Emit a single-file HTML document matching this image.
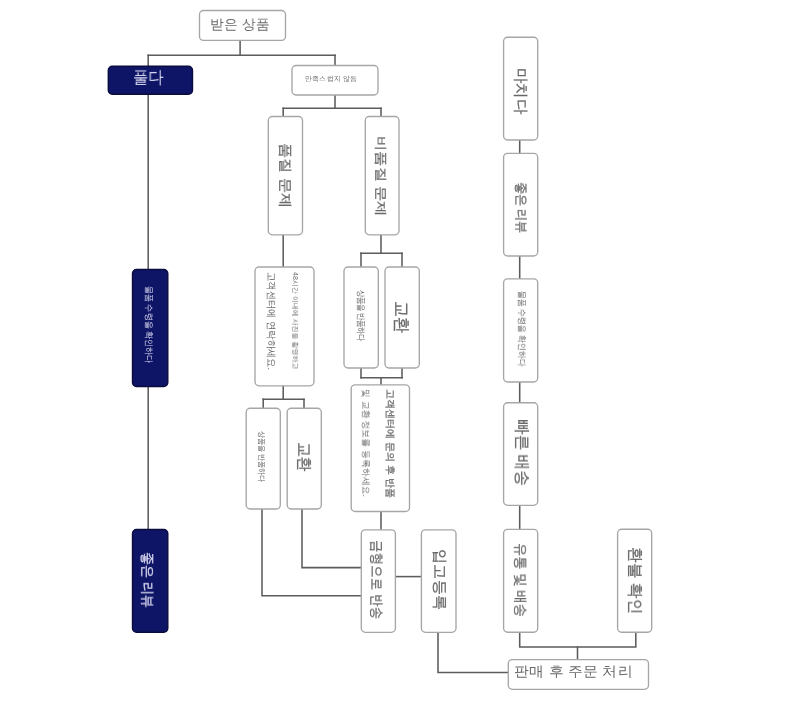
<!DOCTYPE html>
<html><head><meta charset="utf-8"><style>
html,body{margin:0;padding:0;background:#fff;}
body{width:790px;height:723px;position:relative;overflow:hidden;font-family:"Liberation Sans",sans-serif;}
#w{position:absolute;left:0;top:0;width:790px;height:723px;filter:blur(0.45px);}
svg{position:absolute;left:0;top:0;}
.t{position:absolute;white-space:nowrap;line-height:1;transform-origin:0 0;will-change:transform;-webkit-text-stroke:0.25px currentColor;}
.v{writing-mode:vertical-rl;text-orientation:sideways;}
.w{-webkit-text-stroke:0;}
</style></head><body><div id="w">
<svg width="790" height="723" viewBox="0 0 790 723">
<g fill="none" stroke="#5c5c5c" stroke-width="1.55" stroke-linecap="square">
<polyline points="240.1,40.4 240.1,55.2"/>
<polyline points="148.2,55.2 335,55.2"/>
<polyline points="148.2,55.2 148.2,66"/>
<polyline points="148.2,94.5 148.2,269"/>
<polyline points="148.2,386.5 148.2,529.5"/>
<polyline points="335,55.2 335,65.5"/>
<polyline points="335,95 335,108.2"/>
<polyline points="283.2,108.2 381,108.2"/>
<polyline points="283.2,108.2 283.2,116.5"/>
<polyline points="381,108.2 381,116.5"/>
<polyline points="283.2,234.8 283.2,267"/>
<polyline points="381,234.8 381,253.3"/>
<polyline points="361,253.3 402,253.3"/>
<polyline points="361,253.3 361,267"/>
<polyline points="402,253.3 402,267"/>
<polyline points="283.2,385.8 283.2,399.2"/>
<polyline points="263.2,399.2 304,399.2"/>
<polyline points="263.2,399.2 263.2,408.2"/>
<polyline points="304,399.2 304,408.2"/>
<polyline points="361,368 361,377.7"/>
<polyline points="402,368 402,377.7"/>
<polyline points="361,377.7 402,377.7"/>
<polyline points="381,377.7 381,384.8"/>
<polyline points="381,511.5 381,529.8"/>
<polyline points="262,509 262,595.7 361.3,595.7"/>
<polyline points="302,509 302,567.6 361.3,567.6"/>
<polyline points="395.4,576.6 421.4,576.6"/>
<polyline points="438,632.3 438,672.4 508.3,672.4"/>
<polyline points="519.7,140 519.7,153.3"/>
<polyline points="519.7,256 519.7,278.8"/>
<polyline points="519.7,382 519.7,402.7"/>
<polyline points="519.7,505.3 519.7,529.3"/>
<polyline points="519.7,632.2 519.7,647 635.8,647 635.8,632.2"/>
<polyline points="577.5,647 577.5,659.6"/>
</g>
<rect x="199.5" y="10.5" width="86" height="29.9" rx="4" fill="#fff" stroke="#a6a6a6" stroke-width="1.35"/>
<rect x="108.3" y="66.2" width="84.2" height="28.1" rx="4" fill="#0e1466" stroke="#090c3c" stroke-width="1.4"/>
<rect x="292" y="65.5" width="86" height="29.5" rx="4" fill="#fff" stroke="#a6a6a6" stroke-width="1.35"/>
<rect x="268.3" y="116.5" width="34.2" height="118.3" rx="4" fill="#fff" stroke="#a6a6a6" stroke-width="1.35"/>
<rect x="365.3" y="116.5" width="33.7" height="118.3" rx="4" fill="#fff" stroke="#a6a6a6" stroke-width="1.35"/>
<rect x="255" y="267" width="59" height="118.8" rx="4" fill="#fff" stroke="#a6a6a6" stroke-width="1.35"/>
<rect x="344" y="267" width="34.3" height="101" rx="4" fill="#fff" stroke="#a6a6a6" stroke-width="1.35"/>
<rect x="385" y="267" width="34.3" height="101" rx="4" fill="#fff" stroke="#a6a6a6" stroke-width="1.35"/>
<rect x="351.2" y="384.8" width="58.3" height="126.7" rx="4" fill="#fff" stroke="#a6a6a6" stroke-width="1.35"/>
<rect x="246.2" y="408.2" width="34.1" height="100.8" rx="4" fill="#fff" stroke="#a6a6a6" stroke-width="1.35"/>
<rect x="287.2" y="408.2" width="34.1" height="100.8" rx="4" fill="#fff" stroke="#a6a6a6" stroke-width="1.35"/>
<rect x="361.3" y="529.8" width="34.1" height="102.5" rx="4" fill="#fff" stroke="#a6a6a6" stroke-width="1.35"/>
<rect x="421.4" y="529.8" width="34.6" height="102.5" rx="4" fill="#fff" stroke="#a6a6a6" stroke-width="1.35"/>
<rect x="132.5" y="269.5" width="35.3" height="117" rx="4" fill="#0e1466" stroke="#090c3c" stroke-width="1.4"/>
<rect x="132.5" y="529.5" width="35.3" height="102.8" rx="4" fill="#0e1466" stroke="#090c3c" stroke-width="1.4"/>
<rect x="503.6" y="37.2" width="34.1" height="102.8" rx="4" fill="#fff" stroke="#a6a6a6" stroke-width="1.35"/>
<rect x="503.6" y="153.3" width="34.1" height="102.7" rx="4" fill="#fff" stroke="#a6a6a6" stroke-width="1.35"/>
<rect x="503.6" y="278.8" width="34.1" height="103.2" rx="4" fill="#fff" stroke="#a6a6a6" stroke-width="1.35"/>
<rect x="503.6" y="402.7" width="34.1" height="102.6" rx="4" fill="#fff" stroke="#a6a6a6" stroke-width="1.35"/>
<rect x="503.6" y="529.3" width="34.1" height="102.9" rx="4" fill="#fff" stroke="#a6a6a6" stroke-width="1.35"/>
<rect x="617.6" y="529.2" width="34.1" height="103" rx="4" fill="#fff" stroke="#a6a6a6" stroke-width="1.35"/>
<rect x="508.3" y="659.6" width="140.2" height="29.7" rx="4" fill="#fff" stroke="#a6a6a6" stroke-width="1.35"/>
</svg>
<div class="t w" style="left:210.00px;top:16.57px;font-size:14px;color:#686868;transform:scale(0.9966,1.0167)">받은 상품</div>
<div class="t w" style="left:132.94px;top:69.14px;font-size:16px;color:#dcdcf2;transform:scale(0.9581,1.0643)">풀다</div>
<div class="t w" style="left:305.37px;top:74.73px;font-size:7px;color:#686868;transform:scale(1.0286,1.0667)">만족스럽지 않음</div>
<div class="t v" style="left:279.01px;top:143.29px;font-size:15px;color:#686868;transform:scale(0.9133,1.0115)">품질 문제</div>
<div class="t v" style="left:374.63px;top:135.78px;font-size:15px;color:#686868;transform:scale(0.8333,1.0184)">비품질 문제</div>
<div class="t v w" style="left:265.51px;top:271.93px;font-size:9px;color:#686868;transform:scale(1.0875,1.0326)">고객센터에 연락하세요.</div>
<div class="t v w" style="left:291.80px;top:272.00px;font-size:7px;color:#686868;transform:scale(1.0333,0.9938)">48시간 이내에 사진을 촬영하고</div>
<div class="t v w" style="left:356.60px;top:290.09px;font-size:7px;color:#686868;transform:scale(1.2167,1.0082)">상품을 반품하다</div>
<div class="t v" style="left:393.90px;top:300.75px;font-size:15px;color:#686868;transform:scale(1.1154,1.0517)">교환</div>
<div class="t v w" style="left:360.96px;top:389.01px;font-size:9px;color:#686868;transform:scale(1.0375,0.9879)">및 교환 정보를 등록하세요.</div>
<div class="t v" style="left:384.90px;top:388.50px;font-size:10px;color:#686868;transform:scale(0.9900,1.0047)">고객센터에 문의 후 반품</div>
<div class="t v w" style="left:258.00px;top:430.89px;font-size:7px;color:#686868;transform:scale(1.1167,1.0061)">상품을 반품하다</div>
<div class="t v" style="left:297.40px;top:441.83px;font-size:15px;color:#686868;transform:scale(1.0385,0.9655)">교환</div>
<div class="t v" style="left:370.00px;top:539.80px;font-size:14px;color:#686868;transform:scale(1.0308,0.9023)">금형으로 반송</div>
<div class="t v" style="left:433.01px;top:548.88px;font-size:15px;color:#686868;transform:scale(1.0143,1.0207)">입고등록</div>
<div class="t v w" style="left:143.77px;top:286.39px;font-size:8px;color:#dcdcf2;transform:scale(1.1286,1.0147)">물품 수령을 확인하다</div>
<div class="t v" style="left:140.50px;top:552.31px;font-size:13px;color:#dcdcf2;transform:scale(1.0583,0.9926)">좋은 리뷰</div>
<div class="t v" style="left:513.90px;top:68.37px;font-size:15px;color:#686868;transform:scale(1.0000,1.0318)">마치다</div>
<div class="t v" style="left:515.00px;top:182.01px;font-size:12px;color:#686868;transform:scale(1.0455,0.9939)">좋은 리뷰</div>
<div class="t v w" style="left:517.26px;top:290.80px;font-size:8px;color:#686868;transform:scale(1.1429,0.9960)">물품 수령을 확인하다</div>
<div class="t v" style="left:513.50px;top:419.01px;font-size:16px;color:#686868;transform:scale(1.0200,0.9879)">빠른 배송</div>
<div class="t v" style="left:513.90px;top:542.75px;font-size:14px;color:#686868;transform:scale(0.9846,0.9487)">유통 및 배송</div>
<div class="t v" style="left:626.80px;top:547.11px;font-size:16px;color:#686868;transform:scale(1.0200,0.9938)">환불 확인</div>
<div class="t w" style="left:514.32px;top:664.38px;font-size:14px;color:#686868;transform:scale(1.0822,1.0231)">판매 후 주문 처리</div>
</div></body></html>
